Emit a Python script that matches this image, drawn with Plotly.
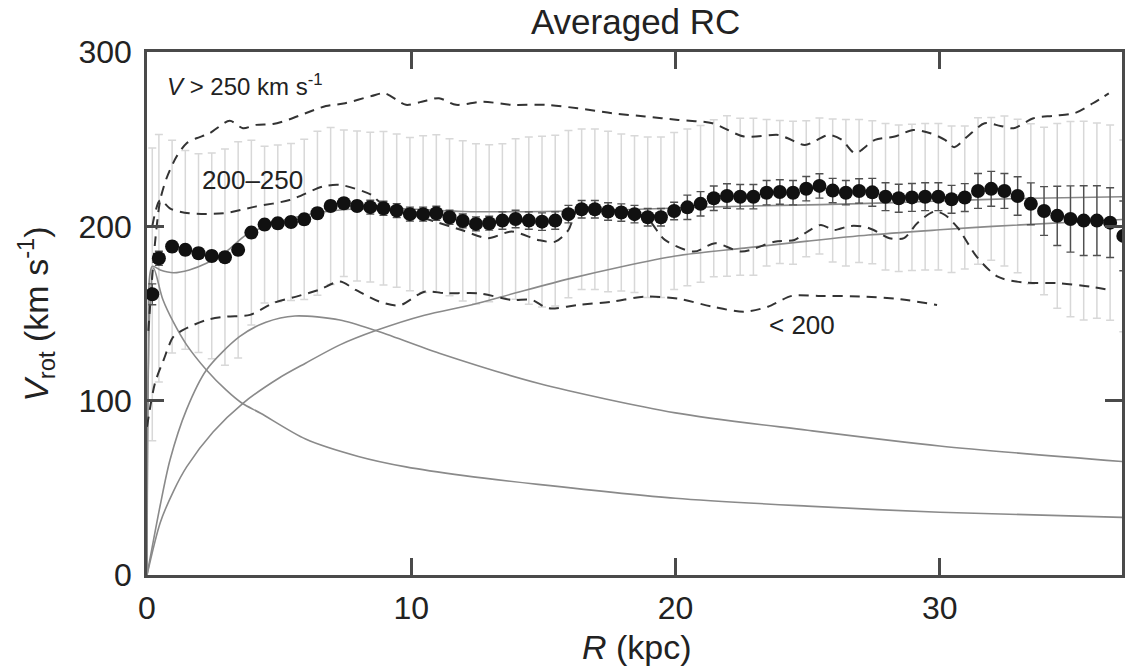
import plotly.graph_objects as go

# ---------------- data ----------------
R_pts = [0.2, 0.45, 0.95, 1.45, 1.95, 2.45, 2.95, 3.45, 3.95, 4.45, 4.95, 5.45,
         5.95, 6.45, 6.95, 7.45, 7.95, 8.45, 8.95, 9.45, 9.95, 10.45,
         10.95, 11.45, 11.95, 12.45, 12.95, 13.45, 13.95, 14.45, 14.95, 15.45,
         15.95, 16.45, 16.95, 17.45, 17.95, 18.45, 18.95, 19.45, 19.95, 20.45,
         20.95, 21.45, 21.95, 22.45, 22.95, 23.45, 23.95, 24.45, 24.95, 25.45,
         25.95, 26.45, 26.95, 27.45, 27.95, 28.45, 28.95, 29.45, 29.95, 30.45,
         30.95, 31.45, 31.95, 32.45, 32.95, 33.45, 33.95, 34.45, 34.95, 35.45,
         35.95, 36.45, 36.95]
V_pts = [161, 181.7,
         188.4, 186.5, 184.6, 183, 182.3, 186.5, 196.4, 201, 201.7, 202.5,
         204, 207.5, 211.7, 213.2, 211.7, 211, 210.4, 209, 207, 207,
         207.5, 205.2, 203.1, 201.4, 201.8, 203.3, 204.2, 203.3, 202.7, 203.3,
         207, 209.8, 209.8, 208.5, 207.9, 207, 205.2, 205.2, 208.8, 210.9,
         212.9, 216.1, 217.4, 217, 217, 219.3, 219.7, 219.3, 221.6, 223.2,
         220.5, 219.3, 220.3, 219.5, 217, 216.1, 216.6, 217, 217, 215.5,
         216.5, 220.3, 221.5, 220.3, 217.4, 212.9, 208.8, 206, 204.2, 203.3,
         203.3, 202.1, 194.5]
# dispersion (light grey bars)
V_disp = [84, 71,
          61, 57, 57, 59, 62, 62, 53, 45, 45, 45,
          46, 47, 45, 42, 43, 43, 44, 44, 44, 45,
          45, 45, 46, 46, 45, 44, 46, 48, 49, 49,
          48, 46, 46, 46, 45, 45, 46, 46, 45, 45,
          45, 45, 46, 45, 45, 42, 41, 41, 39, 39,
          41, 42, 41, 41, 42, 42, 42, 42, 42, 42,
          41, 42, 41, 43, 44, 46, 48, 53, 56, 57,
          56, 56, 55]
# error of the mean (dark bars)
V_err = [6, 4,
         3, 3, 3, 3, 3, 3, 3, 3, 3, 3, 3, 3, 3, 3, 3,
         4, 4, 4, 4, 4, 4, 4, 4, 4, 4,
         5, 5, 5, 5, 5, 5, 5, 5, 5, 5, 5, 5, 5, 5,
         7, 7, 7, 7, 7, 7, 7, 7, 7, 7, 7, 7, 7, 7,
         8, 8, 8, 8, 8, 8, 8, 8,
         10, 10, 10, 11, 12, 14, 17, 19, 20, 20, 20, 20]

# model components
R_bulge = [0, 0.1, 0.25, 0.6, 1.0, 1.5, 2.25, 3.0, 3.6, 4.3, 6.0, 8.0, 9.8, 12, 14.8, 20, 25, 30, 37]
V_bulge = [0, 150, 176, 158, 145, 132, 117.6, 106, 98.5, 92.8, 78, 68, 62, 57, 52, 44, 39.5, 36, 33]
R_disk = [0, 0.5, 0.87, 1.5, 2.25, 3.5, 4.5, 5.6, 7.3, 8.66, 11.06, 14.8, 20, 25, 30, 37]
V_disk = [0, 40, 66, 95, 117.6, 136.7, 145, 148.6, 146.3, 140.2, 127.2, 110, 93, 83, 74, 65]
R_halo = [0, 0.5, 1.0, 1.5, 2.5, 3.63, 5, 6.0, 7.3, 8.66, 10.5, 12.3, 14, 16, 18, 20, 22.6, 25, 27.3, 30, 32, 37]
V_halo = [0, 30, 48, 62, 82, 98.5, 113, 121.5, 132, 140.2, 149, 155, 162, 170, 177, 183, 187.5, 191.5, 195, 198, 200, 204]
R_total = [0, 0.05, 0.2, 0.5, 1.0, 1.6, 2.25, 3.0, 3.75, 4.8, 6.0, 7.3, 9.2, 12, 15, 18, 21, 24, 27, 30, 33, 37]
V_total = [0, 120, 177, 175, 173.4, 175, 178.8, 185.5, 195, 201.8, 206.5, 209.4, 210.4, 208.5, 208.5, 209.5, 211, 212, 213, 214.5, 216, 217]

# sub-sample averages (dashed)
R_hi = [0.05, 0.3, 0.5, 0.74, 1.12, 1.5, 1.87, 2.37, 3.13, 3.63,
        4.13, 4.77, 5.4, 6.0, 6.77, 7.5, 8.5, 9.0, 9.8, 10.4,
        11.05, 11.7, 12.7, 13.8, 15.1, 16.3, 17.6, 18.85, 20.1, 21.4,
        22.6, 23.9, 24.25, 24.9, 25.8, 26.3, 26.8, 27.55, 28.3, 29.0,
        29.65, 30.2, 30.55, 31.05, 31.7, 32.3, 32.8, 33.55, 34.3, 35.1,
        35.8, 36.4]
V_hi = [140, 190, 215, 227.6, 240, 247.7, 250.5, 253.4, 260.5, 256.3,
        258.2, 258.7, 261.4, 264.9, 269, 270.6, 274.8, 276.3, 269.7, 271.5,
        273.5, 269.7, 271.5, 269.7, 269.7, 267.7, 264.9, 263, 261, 259.1,
        251.5, 252.4, 250.5, 246.7, 252.4, 249.6, 242, 249.6, 251.5, 255.3,
        253.4, 249.6, 245.4, 251.5, 259.1, 257.6, 256.3, 262, 263.4, 264.9,
        270.6, 276.3]
R_mid = [0.2, 0.5, 0.9, 1.6, 2.9, 4.1, 5.4, 6.65, 7.3, 8.5,
         8.8, 9.8, 10.9, 11.9, 12.9, 13.8, 14.8, 15.45, 15.95, 16.3,
         17.5, 18.85, 19.6, 20.7, 21.5, 22.5, 23.75, 24.5, 25.0, 25.5,
         26.0, 26.6, 27.15, 27.5, 28.1, 28.65, 29.15, 29.8, 30.2, 30.7,
         31.4, 32.2, 33.2, 34.45, 35.7, 36.4]
V_mid = [200, 215, 210, 207.5, 207.5, 211.3, 215.1, 222.8, 223.8, 218,
         214, 208, 202.7, 197.9, 193.2, 197, 192.2, 191.2, 197.9, 209.4,
         208, 205.6, 192.2, 185.5, 190.3, 185.5, 191.2, 192.2, 197, 200.8,
         197.9, 200.2, 199.8, 197.9, 193.2, 193.2, 201.8, 208.5, 206.5, 198.9,
         182.6, 171.1, 167.8, 167.4, 165.4, 163.5]
R_lo = [0.0, 0.3, 0.62, 1.0, 1.37, 2.25, 3.0, 3.9, 4.77, 5.65,
        6.5, 7.3, 7.9, 8.8, 9.55, 10.5, 11.3, 12.55, 13.8, 14.55,
        15.2, 16.3, 17.6, 18.85, 20.1, 21.4, 22.6, 23.5, 24.4, 25.4,
        27.2, 28.5, 29.9]
V_lo = [85, 110, 123, 136.7, 140.6, 146.3, 148.2, 149.2, 155.9, 159.7,
        163.5, 168.3, 163.5, 156.8, 154.6, 162.5, 161.6, 161.6, 157.8, 157.8,
        153, 154.9, 156.8, 159.7, 158.5, 153.9, 151, 153.9, 160.1, 160.1,
        159.7, 158.2, 154.9]

x_ticks = [0, 10, 20, 30]
y_ticks = [0, 100, 200, 300]

# ---------------- figure ----------------
FONT = "Liberation Sans, Arial, sans-serif"
fig = go.Figure()

# light dispersion bars
fig.add_trace(go.Scatter(
    x=R_pts, y=V_pts, mode="markers",
    marker=dict(size=1, color="rgba(0,0,0,0)"),
    error_y=dict(type="data", array=V_disp, visible=True,
                 color="#d8d8d8", thickness=1.5, width=4),
    showlegend=False, hoverinfo="skip"))

solid = dict(color="#8a8a8a", width=1.6, shape="spline", smoothing=0.8)
for rx, vy in [(R_bulge, V_bulge), (R_disk, V_disk), (R_halo, V_halo), (R_total, V_total)]:
    fig.add_trace(go.Scatter(x=rx, y=vy, mode="lines", line=solid,
                             showlegend=False, hoverinfo="skip"))

dashed = dict(color="#333333", width=2, dash="10px,7px", shape="spline", smoothing=0.8)
for rx, vy in [(R_hi, V_hi), (R_mid, V_mid), (R_lo, V_lo)]:
    fig.add_trace(go.Scatter(x=rx, y=vy, mode="lines", line=dashed,
                             showlegend=False, hoverinfo="skip"))

# averaged RC points
fig.add_trace(go.Scatter(
    x=R_pts, y=V_pts, mode="markers",
    marker=dict(size=14, color="#111111"),
    error_y=dict(type="data", array=V_err, visible=True,
                 color="#505050", thickness=1.4, width=4),
    showlegend=False))

axis_common = dict(
    showgrid=False, zeroline=False, showline=True, mirror="ticks",
    linecolor="#4a4a4a", linewidth=2.5,
    ticks="inside", ticklen=17, tickwidth=2.5, tickcolor="#4a4a4a",
    tickfont=dict(family=FONT, size=32, color="#222"),
)
fig.update_layout(
    width=1128, height=669,
    margin=dict(l=147, r=3, t=52, b=94),
    paper_bgcolor="white", plot_bgcolor="white",
    xaxis=dict(range=[0, 36.9], tickvals=x_ticks, ticklabelstandoff=3, **axis_common),
    yaxis=dict(range=[0, 300], tickvals=y_ticks, ticklabelstandoff=6, **axis_common),
    title=dict(text="Averaged RC", x=0.5635, xanchor="center", y=1 - 22 / 669,
               yanchor="middle", font=dict(family=FONT, size=35, color="#222")),
    font=dict(family=FONT, color="#222"),
    annotations=[
        dict(text="<i>R</i> (kpc)", xref="paper", yref="paper", x=0.503, y=-0.138,
             xanchor="center", yanchor="middle", showarrow=False,
             font=dict(size=34, family=FONT, color="#222")),
        dict(text="<i>V</i><sub>rot</sub> (km s<sup>-1</sup>)", xref="paper", yref="paper",
             x=-0.1145, y=0.5, xanchor="center", yanchor="middle", textangle=-90,
             showarrow=False, font=dict(size=34, family=FONT, color="#222")),
        dict(text="<i>V</i> > 250 km s<sup>-1</sup>", xref="x", yref="y", x=0.68, y=281,
             xanchor="left", yanchor="middle", showarrow=False,
             font=dict(size=24, family=FONT, color="#222")),
        dict(text="200–250", xref="x", yref="y", x=2.0, y=226.6,
             xanchor="left", yanchor="middle", showarrow=False,
             font=dict(size=26, family=FONT, color="#222")),
        dict(text="< 200", xref="x", yref="y", x=23.45, y=143.4,
             xanchor="left", yanchor="middle", showarrow=False,
             font=dict(size=26, family=FONT, color="#222")),
    ],
)

fig.write_html("out.html")
